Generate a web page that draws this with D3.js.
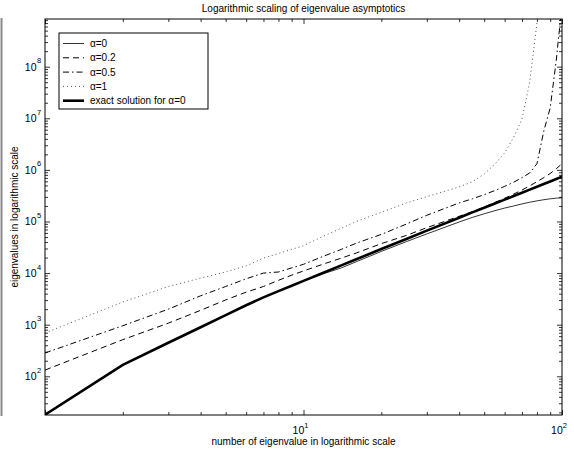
<!DOCTYPE html>
<html><head><meta charset="utf-8">
<script src="https://cdn.jsdelivr.net/npm/d3@7"></script>
<style>body{margin:0;background:#fff} text{font-family:"Liberation Sans",Arial,Helvetica,sans-serif;fill:#000}</style>
</head><body><svg id="c" width="574" height="452"></svg>
<script>
const title = "Logarithmic scaling of eigenvalue asymptotics";
const xLabel = "number of eigenvalue in logarithmic scale";
const yLabel = "eigenvalues in logarithmic scale";
const seriesLabels = ["α=0", "α=0.2", "α=0.5", "α=1", "exact solution for α=0"];
const xTickExps = [1, 2];
const yTickExps = [2, 3, 4, 5, 6, 7, 8];

const nValues = [1,2,3,4,5,6,7,8,9,10,12,14,16,20,25,30,40,45,50,55,60,65,70,75,80,85,90,95,100];
const exact   = [18,167,446,893,1530,2380,3390,4470,5690,7080,10300,14100,18500,29200,45900,66400,118000,150000,185000,223000,265000,311000,361000,414000,472000,533000,597000,666000,738000];
const alpha0  = [18,167,446,893,1530,2380,3390,4470,5690,7080,9800,12600,16600,26300,40700,57500,97700,120000,141000,162000,182000,200000,219000,236000,251000,264000,275000,283000,288000];
const alpha02 = [132,513,1070,1900,3020,4270,5500,7240,9120,11000,15100,19500,24500,37200,53700,75900,126000,155000,191000,234000,282000,339000,407000,490000,589000,708000,851000,1050000,1320000];
const alpha05 = [283,955,2000,3630,5500,7760,10000,10500,12600,14800,21400,28800,38000,56200,89100,132000,229000,275000,331000,398000,479000,575000,708000,871000,1320000,5600000,15800000,132000000,1600000000];
const alpha1  = [690,2750,5500,8000,10500,13800,19500,24000,28800,33900,52500,74100,100000,151000,229000,302000,468000,589000,832000,1290000,2140000,4270000,9550000,50000000,700000000,5e9,5e10,5e11,5e12];

const W = 574, H = 452;
const L = 45, R = 562, T = 19, B = 415;
const svg = d3.select("#c");

const x = d3.scaleLog().domain([1, 100]).range([L, R]);
const y = d3.scaleLog().domain([Math.pow(10,1.25), Math.pow(10,8.924)]).range([B, T]);

svg.append("rect").attr("width", W).attr("height", H).attr("fill", "#fff");

// gray left bar
svg.append("line").attr("x1",1.5).attr("x2",1.5).attr("y1",18).attr("y2",416)
  .attr("stroke","#8a8a8a").attr("stroke-width",2);

svg.append("defs").append("clipPath").attr("id","clip")
  .append("rect").attr("x",L).attr("y",T).attr("width",R-L).attr("height",B-T);

const xMajor = [1,10,100];
const xMinor = [];
for (let d = 0; d < 2; d++) for (let m = 2; m <= 9; m++) xMinor.push(m*Math.pow(10,d));
const yMajor = [], yMinor = [];
for (let d = 1; d <= 8; d++) {
  for (let m = 1; m <= 9; m++) {
    const v = m*Math.pow(10,d);
    if (v < y.domain()[0] || v > y.domain()[1]) continue;
    (m === 1 ? yMajor : yMinor).push(v);
  }
}

function axisG(axis, tx, ty) {
  const g = svg.append("g").attr("transform", `translate(${tx},${ty})`).call(axis);
  g.select(".domain").remove();
  g.selectAll("text").remove();
  g.selectAll("line").attr("stroke","#000").attr("stroke-width",0.8);
  return g;
}
const fmt = () => "";
axisG(d3.axisBottom(x).tickValues(xMajor).tickSize(-5).tickFormat(fmt), 0, B);
axisG(d3.axisBottom(x).tickValues(xMinor).tickSize(-3).tickFormat(fmt), 0, B);
axisG(d3.axisTop(x).tickValues(xMajor).tickSize(-5).tickFormat(fmt), 0, T);
axisG(d3.axisTop(x).tickValues(xMinor).tickSize(-3).tickFormat(fmt), 0, T);
axisG(d3.axisLeft(y).tickValues(yMajor).tickSize(-5).tickFormat(fmt), L, 0);
axisG(d3.axisLeft(y).tickValues(yMinor).tickSize(-3).tickFormat(fmt), L, 0);
axisG(d3.axisRight(y).tickValues(yMajor).tickSize(-5).tickFormat(fmt), R, 0);
axisG(d3.axisRight(y).tickValues(yMinor).tickSize(-3).tickFormat(fmt), R, 0);

const line = d3.line().x(d => x(d[0])).y(d => y(d[1]));
const series = [
  {vals: alpha0,  w: 0.8, dash: null},
  {vals: alpha02, w: 1.0, dash: "6,4"},
  {vals: alpha05, w: 1.0, dash: "6,3,1.5,3"},
  {vals: alpha1,  w: 1.0, dash: "1,3"},
  {vals: exact,   w: 2.6, dash: null}
];
const plot = svg.append("g").attr("clip-path","url(#clip)");
series.forEach(s => {
  plot.append("path").datum(nValues.map((n,i) => [n, s.vals[i]]))
    .attr("d", line).attr("fill","none").attr("stroke", s.dash === "1,3" ? "#555" : "#000")
    .attr("stroke-width", s.w).attr("stroke-dasharray", s.dash);
});

svg.append("rect").attr("x",L).attr("y",T).attr("width",R-L).attr("height",B-T)
  .attr("fill","none").attr("stroke","#000").attr("stroke-width",1);

xTickExps.forEach(e => {
  const t = svg.append("text").attr("x", x(Math.pow(10,e)) - 3).attr("y", 434)
    .attr("text-anchor","middle").attr("font-size",10.5);
  t.append("tspan").text("10");
  t.append("tspan").attr("dy",-6).attr("font-size",7.5).text(e);
});
yTickExps.forEach(e => {
  const yy = y(Math.pow(10,e));
  svg.append("text").attr("x",36.5).attr("y",yy+4).attr("text-anchor","end")
    .attr("font-size",10.5).text("10");
  svg.append("text").attr("x",37).attr("y",yy-3.5).attr("font-size",7.5).text(e);
});

svg.append("text").attr("x",(L+R)/2).attr("y",12).attr("text-anchor","middle")
  .attr("font-size",10).text(title);
svg.append("text").attr("x",(L+R)/2).attr("y",445).attr("text-anchor","middle")
  .attr("font-size",10).text(xLabel);
svg.append("text").attr("transform",`translate(18,${(T+B)/2}) rotate(-90)`)
  .attr("text-anchor","middle").attr("font-size",10).text(yLabel);

const lg = svg.append("g");
lg.append("rect").attr("x",59).attr("y",33).attr("width",149).attr("height",76)
  .attr("fill","#fff").attr("stroke","#000").attr("stroke-width",1);
series.forEach((s,i) => {
  const yy = 43.5 + i*14.3;
  lg.append("line").attr("x1",63).attr("x2",84).attr("y1",yy).attr("y2",yy)
    .attr("stroke", s.dash === "1,3" ? "#555" : "#000").attr("stroke-width",s.w)
    .attr("stroke-dasharray",s.dash);
  lg.append("text").attr("x",90).attr("y",yy+3.6).attr("font-size",10).text(seriesLabels[i]);
});
</script></body></html>
